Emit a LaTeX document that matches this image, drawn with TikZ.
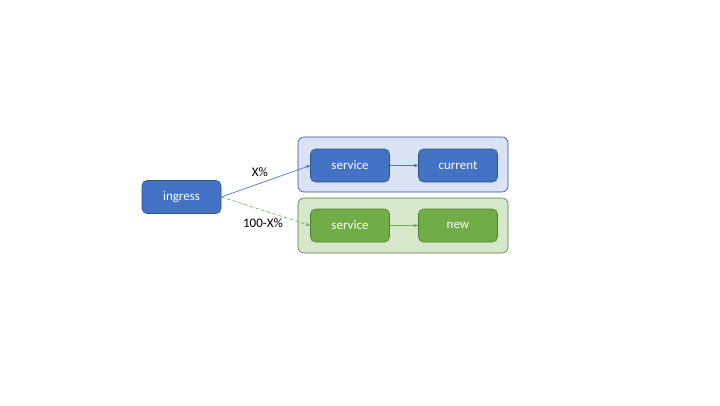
\documentclass[tikz,border=0pt]{standalone}
\usepackage{fontspec}
\setmainfont{Carlito}
\usetikzlibrary{arrows.meta}
\definecolor{bluefill}{HTML}{4472C4}
\definecolor{blueline}{HTML}{2F528F}
\definecolor{bluebg}{HTML}{DAE3F3}
\definecolor{greenfill}{HTML}{70AD47}
\definecolor{greenline}{HTML}{507E32}
\definecolor{greenbg}{HTML}{D6E7CC}
\begin{document}
\begin{tikzpicture}[x=1pt,y=-1pt,
  box/.style={draw=blueline, fill=bluefill, rounded corners=5pt, line width=0.6pt,
    minimum width=79pt, minimum height=33pt, text=white, font=\fontsize{13}{15}\selectfont, inner sep=0pt},
  gbox/.style={box, draw=greenline, fill=greenfill},
  container/.style={draw=blueline, fill=bluebg, rounded corners=6pt, line width=0.6pt},
  gcontainer/.style={draw=greenline, fill=greenbg, rounded corners=6pt, line width=0.6pt},
  lbl/.style={font=\fontsize{13}{15}\selectfont, text=black},
  arr/.style={-{Stealth[length=4.5pt,width=3.5pt]}, line width=0.6pt}
]
\useasboundingbox (0,0) rectangle (720,405);
\fill[white] (0,0) rectangle (720,405);
\draw[container] (298,137) rectangle (508,192);
\draw[gcontainer] (298,198) rectangle (508,253);
\node[box] (ing) at (181.5,197) {ingress};
\node[box] (s1) at (350,165.5) {service};
\node[box] (cur) at (458,165.5) {current};
\node[gbox] (s2) at (350,225.5) {service};
\node[gbox] (new) at (458,225.5) {new};
\draw[arr, draw=bluefill, fill=bluefill] (ing.east) -- (s1.west);
\draw[arr, draw=greenfill, fill=greenfill, dashed] (ing.east) -- (s2.west);
\draw[arr, draw=bluefill, fill=bluefill, line width=0.5pt] (s1.east) -- (cur.west);
\draw[arr, draw=greenfill, fill=greenfill, line width=0.5pt] (s2.east) -- (new.west);
\node[lbl] (l1) at (260,172) {X\%};
\node[lbl] (l2) at (263,223) {100-X\%};
\end{tikzpicture}
\end{document}
